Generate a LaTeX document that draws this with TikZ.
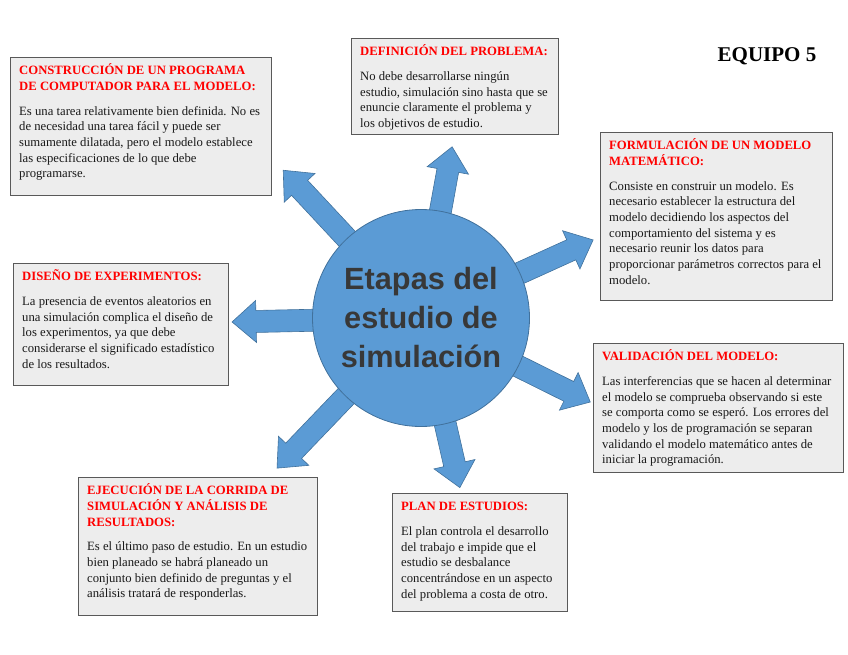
\documentclass[tikz,border=0pt]{standalone}
\usepackage{fontspec}
\setmainfont{Liberation Serif}
\newfontfamily\circfont[UprightFont={* Bold},BoldFont={* Bold}]{Liberation Sans}
\definecolor{azul}{HTML}{5B9BD5}
\definecolor{azulborde}{HTML}{41719C}
\definecolor{grisfondo}{HTML}{EDEDED}
\definecolor{grisborde}{HTML}{595959}
\definecolor{rojo}{HTML}{FF0000}
\definecolor{gristexto}{HTML}{383838}
\newcommand{\encab}[1]{\textcolor{rojo}{\bfseries #1}}

\begin{document}
\begin{tikzpicture}[x=1pt,y=-1pt,line join=miter,
  caja/.style={draw=grisborde,fill=grisfondo,line width=1.2pt,anchor=north west,inner sep=0pt},
  texto/.style={anchor=north west,align=left,inner sep=0pt,text=black!90,font=\fontsize{12.7}{15.7}\selectfont},
  flecha/.style={draw=azulborde,fill=azul,line width=0.6pt}]
\useasboundingbox (0,0) rectangle (848,655);
\coordinate (c) at (421,318);
% flechas
\draw[flecha,shift={(c)},rotate=133] (80,-11) -- (178,-11) -- (178,-21) -- (202,0) -- (178,21) -- (178,11) -- (80,11) -- cycle;
\draw[flecha,shift={(c)},rotate=79.7] (80,-11) -- (150,-11) -- (150,-21) -- (174,0) -- (150,21) -- (150,11) -- (80,11) -- cycle;
\draw[flecha,shift={(c)},rotate=24.4] (80,-11) -- (165,-11) -- (165,-21) -- (189,0) -- (165,21) -- (165,11) -- (80,11) -- cycle;
\draw[flecha,shift={(c)},rotate=181.2] (80,-11) -- (165,-11) -- (165,-21) -- (189,0) -- (165,21) -- (165,11) -- (80,11) -- cycle;
\draw[flecha,shift={(c)},rotate=-26.4] (80,-11) -- (165,-11) -- (165,-21) -- (189,0) -- (165,21) -- (165,11) -- (80,11) -- cycle;
\draw[flecha,shift={(c)},rotate=-133.8] (80,-11) -- (184,-11) -- (184,-21) -- (208,0) -- (184,21) -- (184,11) -- (80,11) -- cycle;
\draw[flecha,shift={(c)},rotate=-77.1] (80,-11) -- (150,-11) -- (150,-21) -- (174,0) -- (150,21) -- (150,11) -- (80,11) -- cycle;
% circulo central
\node[circle,draw=azulborde,fill=azul,line width=0.8pt,minimum size=217pt,inner sep=0pt,align=center,text=gristexto,font=\circfont\fontsize{30.7}{39}\selectfont] (centro) at (c) {Etapas del\\estudio de\\simulación};
% cajas
\node[caja,minimum width=261pt,minimum height=138pt] (construccion) at (10,57) {};
\node[texto] at ([shift={(9,5.5)}]construccion.north west) {\rule{0pt}{12pt}\encab{CONSTRUCCIÓN DE UN PROGRAMA}\\
  \encab{DE COMPUTADOR PARA EL MODELO:}\\[9pt]
  Es una tarea relativamente bien definida. No es\\
  de necesidad una tarea fácil y puede ser\\
  sumamente dilatada, pero el modelo establece\\
  las especificaciones de lo que debe\\
  programarse.};
\node[caja,minimum width=207pt,minimum height=96pt] (definicion) at (351,38) {};
\node[texto] at ([shift={(9,5.5)}]definicion.north west) {\rule{0pt}{12pt}\encab{DEFINICIÓN DEL PROBLEMA:}\\[9pt]
  No debe desarrollarse ningún\\
  estudio, simulación sino hasta que se\\
  enuncie claramente el problema y\\
  los objetivos de estudio.};
\node[caja,minimum width=232pt,minimum height=168pt] (formulacion) at (600,132) {};
\node[texto] at ([shift={(9,5.5)}]formulacion.north west) {\rule{0pt}{12pt}\encab{FORMULACIÓN DE UN MODELO}\\
  \encab{MATEMÁTICO:}\\[9pt]
  Consiste en construir un modelo. Es\\
  necesario establecer la estructura del\\
  modelo decidiendo los aspectos del\\
  comportamiento del sistema y es\\
  necesario reunir los datos para\\
  proporcionar parámetros correctos para el\\
  modelo.};
\node[caja,minimum width=215pt,minimum height=122pt] (diseno) at (13,263) {};
\node[texto] at ([shift={(9,5.5)}]diseno.north west) {\rule{0pt}{12pt}\encab{DISEÑO DE EXPERIMENTOS:}\\[9pt]
  La presencia de eventos aleatorios en\\
  una simulación complica el diseño de\\
  los experimentos, ya que debe\\
  considerarse el significado estadístico\\
  de los resultados.};
\node[caja,minimum width=250pt,minimum height=129pt] (validacion) at (593,343) {};
\node[texto] at ([shift={(9,5.5)}]validacion.north west) {\rule{0pt}{12pt}\encab{VALIDACIÓN DEL MODELO:}\\[9pt]
  Las interferencias que se hacen al determinar\\
  el modelo se comprueba observando si este\\
  se comporta como se esperó. Los errores del\\
  modelo y los de programación se separan\\
  validando el modelo matemático antes de\\
  iniciar la programación.};
\node[caja,minimum width=239pt,minimum height=138pt] (ejecucion) at (78,477) {};
\node[texto] at ([shift={(9,5.5)}]ejecucion.north west) {\rule{0pt}{12pt}\encab{EJECUCIÓN DE LA CORRIDA DE}\\
  \encab{SIMULACIÓN Y ANÁLISIS DE}\\
  \encab{RESULTADOS:}\\[9pt]
  Es el último paso de estudio. En un estudio\\
  bien planeado se habrá planeado un\\
  conjunto bien definido de preguntas y el\\
  análisis tratará de responderlas.};
\node[caja,minimum width=175pt,minimum height=118pt] (plan) at (392,493) {};
\node[texto] at ([shift={(9,5.5)}]plan.north west) {\rule{0pt}{12pt}\encab{PLAN DE ESTUDIOS:}\\[9pt]
  El plan controla el desarrollo\\
  del trabajo e impide que el\\
  estudio se desbalance\\
  concentrándose en un aspecto\\
  del problema a costa de otro.};
% titulo
\node[font=\bfseries\fontsize{21}{25}\selectfont] (equipo) at (767,56) {EQUIPO 5};
\end{tikzpicture}
\end{document}
